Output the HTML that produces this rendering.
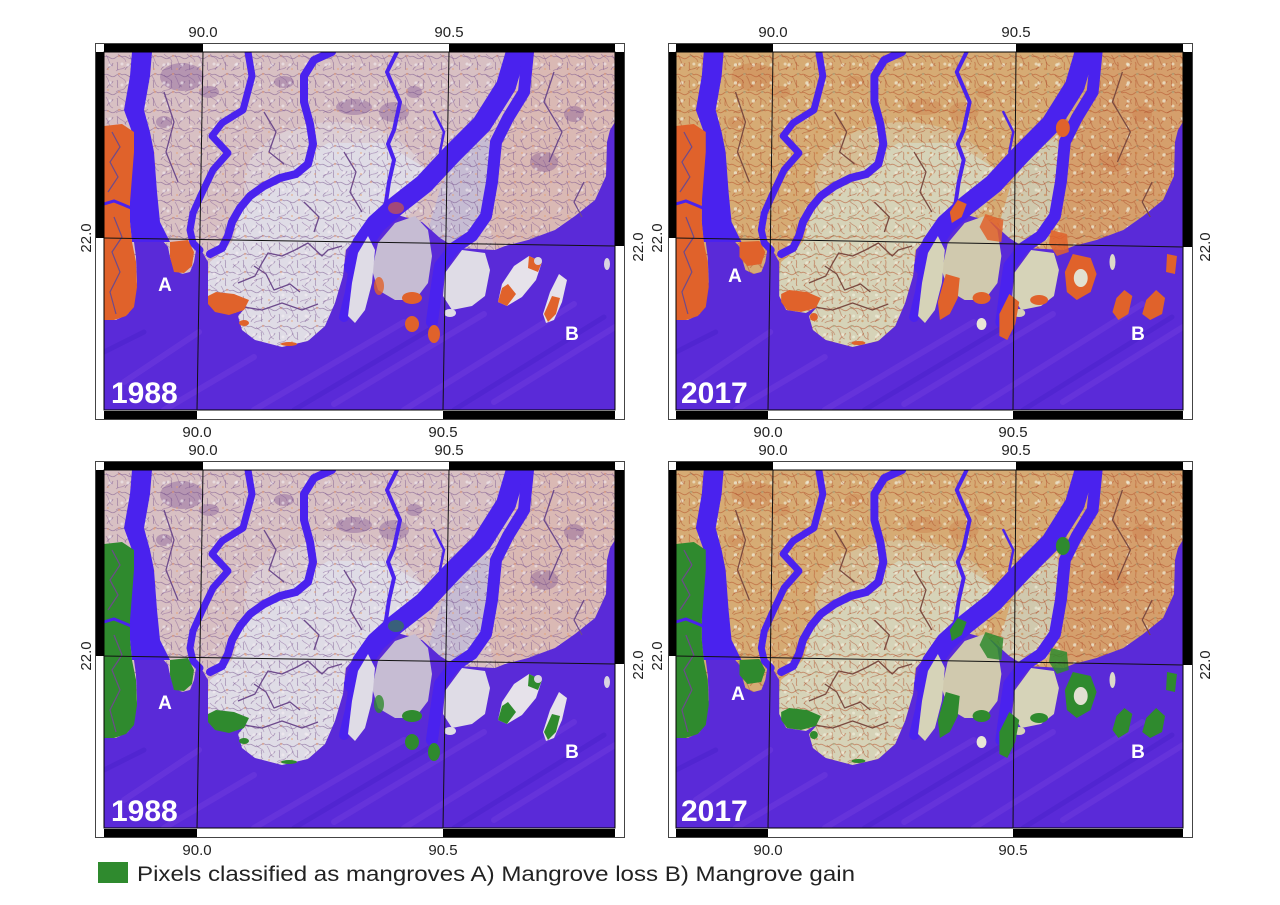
<!DOCTYPE html>
<html><head><meta charset="utf-8">
<style>
html,body{margin:0;padding:0;background:#fff;}
svg{display:block;}
.l1{fill:var(--land);} .l2{fill:var(--land2);} .l3{fill:var(--land3);} .l4{fill:var(--land4);}
.sea{fill:var(--sea);} .rvf{fill:var(--river);}
.riv{fill:none;stroke:var(--river);stroke-linecap:round;stroke-linejoin:round;}
.thin{fill:none;stroke:var(--thin);stroke-width:1.3;stroke-linejoin:round;}
.blot{fill:var(--blot);}
.mg{fill:var(--mg);}
.y88{--land:#d8c0c3;--land2:#dfdce6;--land3:#dab9b4;--land4:#c6bcd3;--sea:#5a2ad8;--river:#4a22ee;--blot:rgba(110,60,140,0.33);--thin:#6d4a8c;--t88:1;--t17:0;}
.y17{--land:#d6ab74;--land2:#d6d3b8;--land3:#d59f6c;--land4:#d0c9ae;--sea:#5a2ad8;--river:#4a22ee;--blot:rgba(200,100,50,0.25);--thin:#7a4a40;--t88:0;--t17:1;}
.o{--mg:#e0622b;} .g{--mg:#2f8a2e;}
text{font-family:"Liberation Sans","DejaVu Sans",sans-serif;}
.tk{font-size:15px;fill:#222;text-anchor:middle;}
.yr{font-size:30px;font-weight:bold;fill:#fff;}
.ab{font-size:19px;font-weight:bold;fill:#fff;text-anchor:middle;}
</style></head>
<body>
<svg width="1280" height="905" viewBox="0 0 1280 905" xmlns="http://www.w3.org/2000/svg" xmlns:xlink="http://www.w3.org/1999/xlink">
<defs>
<clipPath id="cp"><rect x="0" y="0" width="511" height="358"/></clipPath>
<pattern id="tex88" width="18" height="18" patternUnits="userSpaceOnUse">
<path d="M0 5 C4 2 7 9 11 6 S16 3 18 5 M3 18 C4 14 8 15 9 11 M13 10 C15 13 12 15 14 18" fill="none" stroke="#6e4a86" stroke-width="0.8" opacity="0.5"/>
<circle cx="6" cy="13" r="1.6" fill="#f4ecf2" opacity="0.6"/>
<circle cx="15" cy="4" r="1.2" fill="#e59a70" opacity="0.5"/>
</pattern>
<pattern id="tex88b" width="23" height="21" patternUnits="userSpaceOnUse">
<path d="M2 3 C6 8 4 12 9 14 M14 2 C17 6 21 5 22 10 M12 19 C15 16 19 18 21 15" fill="none" stroke="#7a5090" stroke-width="0.7" opacity="0.45"/>
<circle cx="18" cy="12" r="1.5" fill="#f6f0f4" opacity="0.55"/>
<circle cx="4" cy="17" r="1.1" fill="#e8a070" opacity="0.45"/>
</pattern>
<pattern id="tex17" width="18" height="18" patternUnits="userSpaceOnUse">
<path d="M0 5 C4 2 7 9 11 6 S16 3 18 5 M3 18 C4 14 8 15 9 11 M13 10 C15 13 12 15 14 18" fill="none" stroke="#b4502c" stroke-width="0.9" opacity="0.55"/>
<circle cx="6" cy="13" r="1.7" fill="#f2f0dc" opacity="0.7"/>
<circle cx="15" cy="4" r="1.3" fill="#9fb08a" opacity="0.5"/>
</pattern>
<pattern id="tex17b" width="23" height="21" patternUnits="userSpaceOnUse">
<path d="M2 3 C6 8 4 12 9 14 M14 2 C17 6 21 5 22 10 M12 19 C15 16 19 18 21 15" fill="none" stroke="#a84828" stroke-width="0.8" opacity="0.5"/>
<circle cx="18" cy="12" r="1.5" fill="#f4f2e0" opacity="0.6"/>
<circle cx="4" cy="17" r="1.2" fill="#c87838" opacity="0.5"/>
</pattern>

<g id="map">
<rect class="l1" x="0" y="0" width="511" height="358"/>
<ellipse class="l2" cx="230" cy="130" rx="90" ry="60" opacity="0.5"/>
<polygon class="l2" points="138,148 178,124 208,101 224,91 281,91 324,118 324,138 284,164 258,184 241,198 239,224 231,251 221,274 204,289 178,295 151,288 138,278 134,264 143,254 131,261 111,258 104,244 104,224 106,210 118,200 128,190 134,172"/>
<polygon class="l3" points="400,0 511,0 511,78 503,124 491,148 471,164 451,178 424,188 401,194 391,198 386,178 388,124 391,84 411,41"/>
<polygon class="l4" points="384,84 388,124 381,164 374,188 358,194 338,191 324,178 338,131 358,101"/>
<g class="blot">
<ellipse cx="78" cy="25" rx="22" ry="14"/><ellipse cx="105" cy="40" rx="10" ry="6"/>
<ellipse cx="250" cy="55" rx="18" ry="8"/><ellipse cx="290" cy="60" rx="15" ry="10"/>
<ellipse cx="310" cy="40" rx="8" ry="6"/><ellipse cx="180" cy="30" rx="10" ry="6"/>
<ellipse cx="470" cy="62" rx="10" ry="8"/><ellipse cx="60" cy="70" rx="8" ry="6"/>
<ellipse cx="440" cy="110" rx="14" ry="10"/>
</g>
<rect x="0" y="0" width="511" height="358" fill="url(#tex88)" style="opacity:var(--t88)"/>
<rect x="0" y="0" width="511" height="358" fill="url(#tex88b)" style="opacity:var(--t88)"/>
<rect x="0" y="0" width="511" height="358" fill="url(#tex17)" style="opacity:var(--t17)"/>
<rect x="0" y="0" width="511" height="358" fill="url(#tex17b)" style="opacity:var(--t17)"/>
<polygon class="sea" points="0,358 0,268 12,268 24,262 30,250 33,230 32,205 30,190 58,188 64,195 66,205 70,218 78,222 86,220 90,210 92,198 96,196 104,210 104,244 111,258 131,261 143,254 134,264 138,278 151,288 178,295 204,289 221,274 231,251 239,224 242,198 252,186 262,176 290,162 318,170 336,186 352,196 391,198 401,194 424,188 451,178 471,164 491,148 502,124 503,90 506,78 511,70 511,358"/>
<g fill="none" stroke-linecap="round">
<g stroke="#7c46e2" stroke-opacity="0.35" stroke-width="6">
<path d="M20 330 L95 280"/><path d="M150 358 L300 270"/><path d="M230 352 L380 262"/>
<path d="M300 358 L470 252"/><path d="M390 350 L511 275"/><path d="M60 358 L150 305"/>
</g>
<g stroke="#3f1cc0" stroke-opacity="0.3" stroke-width="5">
<path d="M190 358 L330 275"/><path d="M350 358 L500 265"/><path d="M0 300 L40 280"/>
</g>
</g>
<polygon class="rvf" points="28,0 26,24 20,58 28,80 28,100 26,140 26,170 28,190 66,190 56,170 53,140 50,100 46,80 40,58 46,24 48,0"/>
<g class="riv">
<polyline stroke-width="7" points="144,0 148,24 139,58 118,71 108,84 124,101 109,118 98,141 89,161 86,178 89,191 96,198"/>
<polyline stroke-width="8" points="228,0 210,8 200,24 200,50 206,72 209,92 204,112 192,122 176,126 160,134 146,144 136,156 128,170 124,184 118,196 106,202"/>
<polyline stroke-width="4" points="293,0 283,20 296,50 290,78 284,92 290,108 285,130 282,150 276,166"/>
<polyline stroke-width="20" points="412,0 402,34 378,72 348,102 320,132 292,154 272,172 258,192 250,214"/>
<polyline stroke-width="10" points="250,214 246,240 240,265"/>
<polyline stroke-width="12" points="424,0 420,40 404,66 392,90 388,130 382,164 368,184 350,196 336,214 332,240 328,270"/>
<polyline stroke-width="3" points="0,152 10,149 20,153 30,156"/>
<polyline stroke-width="2.5" points="330,60 340,80 336,100 345,115"/>
</g>
<g class="thin">
<polyline points="134,231 151,224 158,211 164,201 178,204 191,198 204,191 218,204 224,198 238,194"/>
<polyline points="134,254 158,258 178,251 198,258 214,252"/>
<polyline points="150,214 162,222 170,238 186,232 196,240"/>
<polyline points="8,80 16,95 6,110 14,125 4,140"/>
<polyline points="10,165 18,185 8,200 16,220 6,240 12,262"/>
<polyline points="240,100 252,120 246,140 258,160"/>
<polyline points="60,40 70,70 62,100 74,130"/>
<polyline points="450,20 440,50 458,80 445,110"/>
<polyline points="160,60 172,80 165,100 180,112"/>
<polyline points="480,130 470,150 478,165"/>
<polyline points="200,150 215,165 210,180"/>
</g>
<polygon class="l4" points="291,171 311,164 324,178 328,204 324,231 311,248 291,248 274,238 268,218 274,191"/>
<polygon class="l2" points="264,184 271,198 268,231 261,258 251,271 244,264 248,231 254,201"/>
<polygon class="l2" points="358,198 381,201 386,218 381,244 368,254 348,258 339,244 341,221"/>
<ellipse class="l2" cx="346" cy="261" rx="6" ry="4"/>
</g>

<g id="mg88">
<polygon class="mg" points="0,74 18,72 30,80 30,100 28,125 26,150 26,170 28,190 32,210 33,235 30,255 22,264 10,268 0,268"/>
<polyline points="0,152 10,149 20,153 27,156" fill="none" stroke="#4a22ee" stroke-width="3"/>
<polyline points="8,80 16,95 6,110 14,125 4,140" fill="none" stroke="#6d4a8c" stroke-width="1.2"/>
<polyline points="10,165 18,185 8,200 16,220 6,240 12,262" fill="none" stroke="#6d4a8c" stroke-width="1.2"/>
<polygon class="mg" points="66,190 84,188 90,200 88,214 80,221 70,220 66,205"/>
<polygon class="mg" points="104,244 112,240 130,242 145,248 140,258 125,263 111,260 104,252"/>
<ellipse class="mg" cx="140" cy="271" rx="5" ry="3"/>
<ellipse class="mg" cx="185" cy="292" rx="8" ry="2"/>
<ellipse class="mg" cx="292" cy="156" rx="8" ry="6" opacity="0.6"/>
<ellipse class="mg" cx="275" cy="234" rx="5" ry="9" opacity="0.8"/>
<ellipse class="mg" cx="308" cy="246" rx="10" ry="6"/>
<ellipse class="mg" cx="308" cy="272" rx="7" ry="8"/>
<ellipse class="mg" cx="330" cy="282" rx="6" ry="9"/>
<polygon fill="#e6e2ea" points="425,204 438,210 432,228 418,245 403,254 394,250 398,232 410,214"/>
<polygon class="mg" points="394,250 403,254 412,242 404,232 398,236"/>
<polygon class="mg" points="425,204 438,210 434,220 424,216"/>
<polygon fill="#e6e2ea" points="455,222 463,228 458,250 450,268 442,271 439,262 446,240"/>
<polygon class="mg" points="448,244 456,246 452,262 444,270 440,262"/>
<ellipse fill="#d9d4e2" cx="434" cy="209" rx="4" ry="4"/>
<ellipse fill="#d9d4e2" cx="503" cy="212" rx="3" ry="6"/>
</g>

<g id="mg17">
<polygon class="mg" points="0,74 18,72 30,80 30,100 28,125 26,150 26,170 28,190 32,210 33,235 30,255 22,264 10,268 0,268"/>
<polyline points="0,152 10,149 20,153 27,156" fill="none" stroke="#4a22ee" stroke-width="3"/>
<polyline points="8,80 16,95 6,110 14,125 4,140" fill="none" stroke="#6d4a8c" stroke-width="1.2"/>
<polyline points="10,165 18,185 8,200 16,220 6,240 12,262" fill="none" stroke="#6d4a8c" stroke-width="1.2"/>
<polygon class="mg" points="64,190 84,189 90,200 86,212 72,214 64,205"/>
<polygon class="mg" points="106,242 114,238 132,240 146,246 141,256 126,260 112,258 106,250"/>
<ellipse class="mg" cx="139" cy="265" rx="4" ry="4"/>
<ellipse class="mg" cx="184" cy="291" rx="7" ry="2"/>
<polygon class="mg" points="284,148 293,152 288,165 278,171 276,160"/>
<polygon class="mg" points="312,162 330,168 328,190 314,188 306,175" opacity="0.85"/>
<polygon class="mg" points="272,222 286,226 284,246 276,262 266,268 264,250"/>
<ellipse class="mg" cx="308" cy="246" rx="9" ry="6"/>
<polygon class="mg" points="336,242 346,250 342,272 334,288 326,284 326,262"/>
<ellipse fill="#e8e6d6" cx="308" cy="272" rx="5" ry="6"/>
<ellipse class="mg" cx="366" cy="248" rx="9" ry="5"/>
<polygon class="mg" points="378,178 394,182 396,200 384,204 376,192" opacity="0.85"/>
<polygon class="mg" points="400,202 418,206 424,222 418,240 404,248 394,240 392,220"/>
<ellipse fill="#e2e0d2" cx="408" cy="226" rx="7" ry="9"/>
<polygon class="mg" points="452,238 460,244 456,262 446,268 440,260 444,246"/>
<polygon class="mg" points="484,238 493,246 490,262 478,268 470,262 474,248"/>
<polygon class="mg" points="495,202 505,204 503,222 494,220"/>
<ellipse class="mg" cx="390" cy="76" rx="7" ry="9"/>
<ellipse fill="#dcdac8" cx="440" cy="210" rx="3" ry="8"/>
</g>
</defs>

<!-- ============ TOP LEFT ============ -->
<rect x="95.5" y="43.5" width="529" height="376" fill="#fff" stroke="#444" stroke-width="1"/>
<rect x="104" y="44" width="99" height="8" fill="#000"/>
<rect x="449" y="44" width="166" height="8" fill="#000"/>
<rect x="104" y="411" width="93" height="8" fill="#000"/>
<rect x="443" y="411" width="172" height="8" fill="#000"/>
<rect x="96" y="52" width="8" height="186" fill="#000"/>
<rect x="615" y="52" width="9" height="194" fill="#000"/>
<g transform="translate(104,52)" class="y88 o">
<g clip-path="url(#cp)"><use href="#map" xlink:href="#map"/><use href="#mg88" xlink:href="#mg88"/></g>
</g>
<rect x="104" y="52" width="511" height="358" fill="none" stroke="#000" stroke-width="1"/>
<g stroke="#111" stroke-width="1"><line x1="203" y1="52" x2="197" y2="410"/><line x1="449" y1="52" x2="443" y2="410"/><line x1="104" y1="238" x2="615" y2="246"/></g>
<text class="ab" x="165" y="291">A</text><text class="ab" x="572" y="340">B</text>
<text class="yr" x="111" y="403">1988</text>
<text class="tk" x="203" y="37">90.0</text><text class="tk" x="449" y="37">90.5</text>
<text class="tk" x="197" y="437">90.0</text><text class="tk" x="443" y="437">90.5</text>
<text class="tk" transform="translate(91,238) rotate(-90)">22.0</text>
<text class="tk" transform="translate(643,247) rotate(-90)">22.0</text>

<!-- ============ TOP RIGHT ============ -->
<rect x="668.5" y="43.5" width="524" height="376" fill="#fff" stroke="#444" stroke-width="1"/>
<rect x="676" y="44" width="97" height="8" fill="#000"/>
<rect x="1016" y="44" width="167" height="8" fill="#000"/>
<rect x="676" y="411" width="92" height="8" fill="#000"/>
<rect x="1013" y="411" width="170" height="8" fill="#000"/>
<rect x="669" y="52" width="7" height="186" fill="#000"/>
<rect x="1183" y="52" width="9" height="195" fill="#000"/>
<g transform="translate(676,52) scale(0.992,1)" class="y17 o">
<g clip-path="url(#cp)"><use href="#map" xlink:href="#map"/><use href="#mg17" xlink:href="#mg17"/></g>
</g>
<rect x="676" y="52" width="507" height="358" fill="none" stroke="#000" stroke-width="1"/>
<g stroke="#111" stroke-width="1"><line x1="773" y1="52" x2="768" y2="410"/><line x1="1016" y1="52" x2="1013" y2="410"/><line x1="676" y1="238" x2="1183" y2="247"/></g>
<text class="ab" x="735" y="282">A</text><text class="ab" x="1138" y="340">B</text>
<text class="yr" x="681" y="403">2017</text>
<text class="tk" x="773" y="37">90.0</text><text class="tk" x="1016" y="37">90.5</text>
<text class="tk" x="768" y="437">90.0</text><text class="tk" x="1013" y="437">90.5</text>
<text class="tk" transform="translate(662,238) rotate(-90)">22.0</text>
<text class="tk" transform="translate(1210,247) rotate(-90)">22.0</text>

<!-- ============ BOTTOM LEFT ============ -->
<g transform="translate(0,418)">
<rect x="95.5" y="43.5" width="529" height="376" fill="#fff" stroke="#444" stroke-width="1"/>
<rect x="104" y="44" width="99" height="8" fill="#000"/>
<rect x="449" y="44" width="166" height="8" fill="#000"/>
<rect x="104" y="411" width="93" height="8" fill="#000"/>
<rect x="443" y="411" width="172" height="8" fill="#000"/>
<rect x="96" y="52" width="8" height="186" fill="#000"/>
<rect x="615" y="52" width="9" height="194" fill="#000"/>
<g transform="translate(104,52)" class="y88 g">
<g clip-path="url(#cp)"><use href="#map" xlink:href="#map"/><use href="#mg88" xlink:href="#mg88"/></g>
</g>
<rect x="104" y="52" width="511" height="358" fill="none" stroke="#000" stroke-width="1"/>
<g stroke="#111" stroke-width="1"><line x1="203" y1="52" x2="197" y2="410"/><line x1="449" y1="52" x2="443" y2="410"/><line x1="104" y1="238" x2="615" y2="246"/></g>
<text class="ab" x="165" y="291">A</text><text class="ab" x="572" y="340">B</text>
<text class="yr" x="111" y="403">1988</text>
<text class="tk" x="203" y="37">90.0</text><text class="tk" x="449" y="37">90.5</text>
<text class="tk" x="197" y="437">90.0</text><text class="tk" x="443" y="437">90.5</text>
<text class="tk" transform="translate(91,238) rotate(-90)">22.0</text>
<text class="tk" transform="translate(643,247) rotate(-90)">22.0</text>
</g>

<!-- ============ BOTTOM RIGHT ============ -->
<g transform="translate(0,418)">
<rect x="668.5" y="43.5" width="524" height="376" fill="#fff" stroke="#444" stroke-width="1"/>
<rect x="676" y="44" width="97" height="8" fill="#000"/>
<rect x="1016" y="44" width="167" height="8" fill="#000"/>
<rect x="676" y="411" width="92" height="8" fill="#000"/>
<rect x="1013" y="411" width="170" height="8" fill="#000"/>
<rect x="669" y="52" width="7" height="186" fill="#000"/>
<rect x="1183" y="52" width="9" height="195" fill="#000"/>
<g transform="translate(676,52) scale(0.992,1)" class="y17 g">
<g clip-path="url(#cp)"><use href="#map" xlink:href="#map"/><use href="#mg17" xlink:href="#mg17"/></g>
</g>
<rect x="676" y="52" width="507" height="358" fill="none" stroke="#000" stroke-width="1"/>
<g stroke="#111" stroke-width="1"><line x1="773" y1="52" x2="768" y2="410"/><line x1="1016" y1="52" x2="1013" y2="410"/><line x1="676" y1="238" x2="1183" y2="247"/></g>
<text class="ab" x="738" y="282">A</text><text class="ab" x="1138" y="340">B</text>
<text class="yr" x="681" y="403">2017</text>
<text class="tk" x="773" y="37">90.0</text><text class="tk" x="1016" y="37">90.5</text>
<text class="tk" x="768" y="437">90.0</text><text class="tk" x="1013" y="437">90.5</text>
<text class="tk" transform="translate(662,238) rotate(-90)">22.0</text>
<text class="tk" transform="translate(1210,247) rotate(-90)">22.0</text>
</g>

<!-- legend -->
<rect x="98" y="862" width="30" height="21" fill="#2f8a2e"/>
<text x="137" y="881" font-size="21" fill="#222" textLength="718" lengthAdjust="spacingAndGlyphs">Pixels classified as mangroves  A) Mangrove loss B) Mangrove gain</text>
</svg>
</body></html>
